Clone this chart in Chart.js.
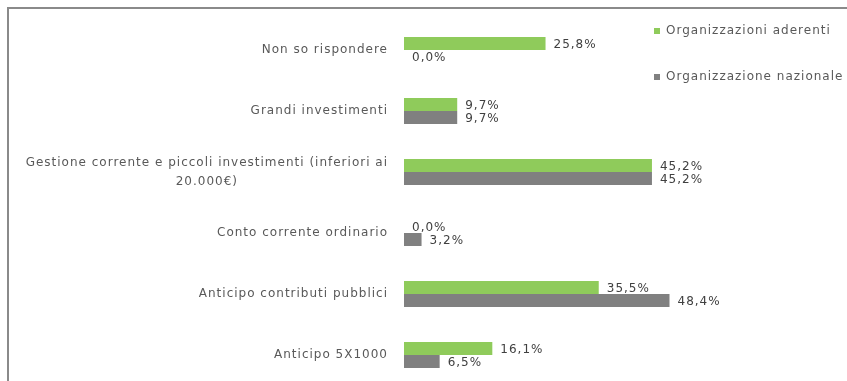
<!DOCTYPE html>
<html>
<head>
<meta charset="utf-8">
<script src="https://cdn.jsdelivr.net/npm/chart.js@4/dist/chart.umd.min.js"></script>
<style>
  html, body { margin: 0; padding: 0; background: #fff; overflow: hidden; width: 847px; height: 381px; }
  #wrap { position: relative; width: 847px; height: 381px; overflow: hidden; }
  #frame { position: absolute; left: 7px; top: 7px; width: 900px; height: 500px; border: 2px solid #8a8a8a; box-sizing: border-box; }
  #chart { position: absolute; left: 0; top: 0; }
</style>
</head>
<body>
<div id="wrap">
  <div id="frame"></div>
  <canvas id="chart" width="847" height="400"></canvas>
</div>
<script>
// Categories (top to bottom) and the two series, in percent
var categories = [
  ['Non so rispondere'],
  ['Grandi investimenti'],
  ['Gestione corrente e piccoli investimenti (inferiori ai', '20.000€)'],
  ['Conto corrente ordinario'],
  ['Anticipo contributi pubblici'],
  ['Anticipo 5X1000']
];
var aderenti = [25.8, 9.7, 45.2, 0.0, 35.5, 16.1];
var nazionale = [0.0, 9.7, 45.2, 3.2, 48.4, 6.5];
var seriesNames = ['Organizzazioni aderenti', 'Organizzazione nazionale'];
var seriesColors = ['#8fcb5b', '#808080'];

var textColor = '#595959';
var fontSpec = '12px "DejaVu Sans", sans-serif';

function fmt(v) {
  return v.toFixed(1).replace('.', ',') + '%';
}

// category labels, value labels and the legend are drawn here
var textPlugin = {
  id: 'textPlugin',
  afterDatasetsDraw: function(chart) {
    var ctx = chart.ctx;
    var yScale = chart.scales.y;
    ctx.save();
    ctx.font = fontSpec;
    ctx.letterSpacing = '1px';
    ctx.fillStyle = textColor;
    ctx.textBaseline = 'middle';

    // category labels, block right-aligned, lines centered inside the block
    var rightEdge = 388;
    categories.forEach(function(lines, i) {
      var y = yScale.getPixelForValue(i);
      var maxW = 0;
      lines.forEach(function(l) { maxW = Math.max(maxW, ctx.measureText(l).width); });
      var cx = rightEdge - maxW / 2;
      var lh = 19;
      var y0 = y - (lines.length - 1) * lh / 2;
      ctx.textAlign = 'center';
      lines.forEach(function(l, k) {
        ctx.fillText(l, cx, y0 + k * lh);
      });
    });

    // value labels at the end of every bar
    ctx.textAlign = 'left';
    ctx.fillStyle = '#404040';
    chart.data.datasets.forEach(function(ds, di) {
      var meta = chart.getDatasetMeta(di);
      meta.data.forEach(function(bar, i) {
        ctx.fillText(fmt(ds.data[i]), bar.x + 8, bar.y + 1);
      });
    });

    // legend
    var lx = 654, ly = [31, 77];
    chart.data.datasets.forEach(function(ds, di) {
      ctx.fillStyle = ds.backgroundColor;
      ctx.fillRect(lx, ly[di] - 3, 6, 6);
      ctx.fillStyle = textColor;
      ctx.fillText(ds.label, lx + 12, ly[di]);
    });
    ctx.restore();
  }
};

new Chart(document.getElementById('chart'), {
  type: 'bar',
  data: {
    labels: categories,
    datasets: [{
      label: seriesNames[0],
      data: aderenti,
      backgroundColor: seriesColors[0]
    }, {
      label: seriesNames[1],
      data: nazionale,
      backgroundColor: seriesColors[1]
    }]
  },
  options: {
    indexAxis: 'y',
    responsive: false,
    animation: false,
    categoryPercentage: 0.43,
    barPercentage: 1.0,
    layout: {
      padding: { left: 404, right: 59, top: 19.5, bottom: 14.5 }
    },
    scales: {
      x: { display: false, min: 0, max: 70 },
      y: { display: false }
    },
    plugins: {
      legend: { display: false },
      tooltip: { enabled: false }
    }
  },
  plugins: [textPlugin]
});
</script>
</body>
</html>
